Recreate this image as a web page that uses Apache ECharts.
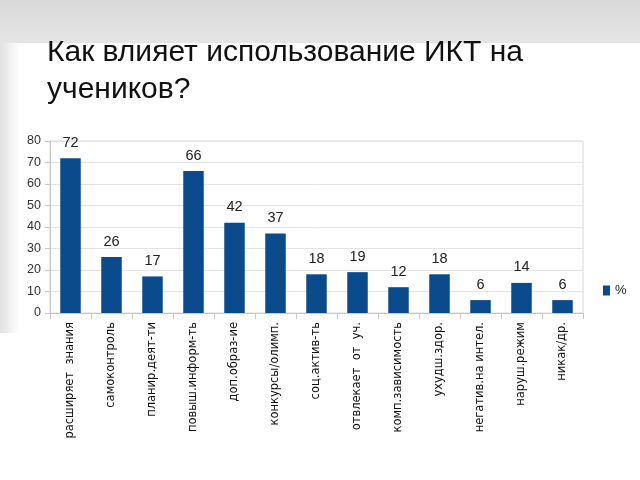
<!DOCTYPE html>
<html><head><meta charset="utf-8">
<script src="https://cdn.jsdelivr.net/npm/echarts@6/dist/echarts.min.js"></script>
<style>html,body{margin:0;padding:0;background:#fff}#c{width:640px;height:480px}</style>
</head><body><div id="c"></div>
<script>
const categories = ["расширяет  знания","самоконтроль","планир.деят-ти","повыш.информ-ть","доп.образ-ие","конкурсы/олимп.","соц.актив-ть","отвлекает  от  уч.","комп.зависимость","ухудш.здор.","негатив.на интел.","наруш.режим","никак/др."];
const values = [72,26,17,66,42,37,18,19,12,18,6,14,6];
const seriesName = "%";
const titleText = "Как влияет использование ИКТ на\nучеников?";

const chart = echarts.init(document.getElementById('c'), null, {renderer:'canvas'});
chart.setOption({
  backgroundColor:'#ffffff',
  animation:false,
  graphic:[
    {type:'rect', shape:{x:0,y:0,width:640,height:43}, z:-10,
     style:{fill:new echarts.graphic.LinearGradient(0,0,0,1,[{offset:0,color:'#d9d9d9'},{offset:1,color:'#e5e5e5'}])}},
    {type:'rect', shape:{x:0,y:43,width:20,height:290}, z:-10,
     style:{fill:new echarts.graphic.LinearGradient(0,0,1,0,[{offset:0,color:'#e2e2e2'},{offset:1,color:'#ffffff'}])}},
    {type:'text', left:47, top:34, z:10,
     style:{text:titleText, font:'30px "Liberation Sans", Arial, sans-serif', fill:'#111', lineHeight:37}}
  ],
  legend:{data:[seriesName], left:598, top:279, itemWidth:7, itemHeight:10, itemGap:5,
    textStyle:{fontSize:13, color:'#222', fontFamily:'"Liberation Sans", Arial'}, icon:'rect'},
  grid:{left:50, right:57, top:141, bottom:167, show:true, borderColor:'#d8d8d8', borderWidth:1},
  xAxis:{type:'category', data:categories,
    axisLine:{lineStyle:{color:'#c8c8c8'}},
    axisTick:{show:true, length:6, lineStyle:{color:'#c8c8c8'}},
    axisLabel:{rotate:90, interval:0, fontSize:11.5, color:'#111', margin:9, fontFamily:'"DejaVu Sans", sans-serif'}},
  yAxis:{type:'value', min:0, max:80, interval:10,
    axisLine:{show:true, lineStyle:{color:'#c8c8c8'}},
    axisTick:{show:true, length:5, lineStyle:{color:'#c8c8c8'}},
    splitLine:{lineStyle:{color:'#e4e4e4'}},
    axisLabel:{fontSize:12.5, color:'#333', margin:9, fontFamily:'"Liberation Sans Narrow", "Liberation Sans", Arial'}},
  series:[{name:seriesName, type:'bar', data:values, barWidth:'50%',
    itemStyle:{color:'#0b4a8b'},
    label:{show:true, position:'top', distance:8, fontSize:14.5, color:'#222', fontFamily:'"Liberation Sans Narrow", "Liberation Sans", Arial'}}]
});
</script></body></html>
